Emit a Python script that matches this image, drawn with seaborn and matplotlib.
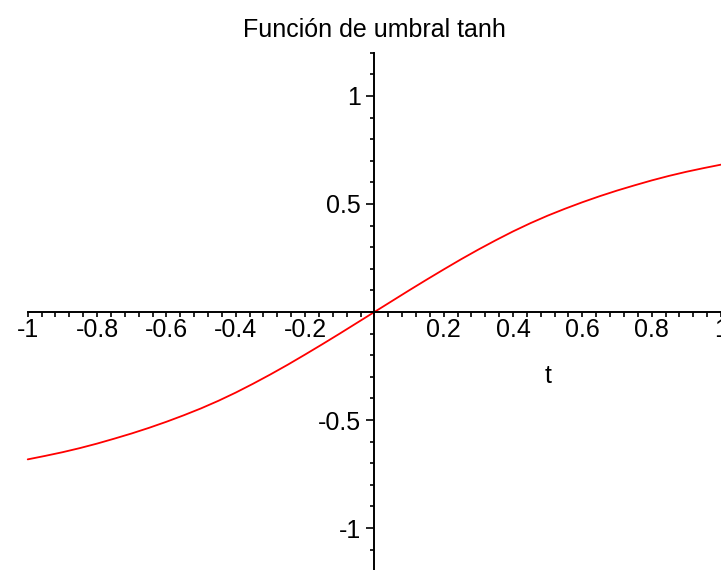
import numpy as np
import pandas as pd
import matplotlib
matplotlib.use("Agg")
import matplotlib.pyplot as plt
from matplotlib.ticker import FixedLocator
import seaborn as sns

# wartości (t co 0.05)
t_vals = [-1.0, -0.95, -0.9, -0.85, -0.8, -0.75, -0.7, -0.65, -0.6, -0.55,
          -0.5, -0.45, -0.4, -0.35, -0.3, -0.25, -0.2, -0.15, -0.1, -0.05,
          0.0, 0.05, 0.1, 0.15, 0.2, 0.25, 0.3, 0.35, 0.4, 0.45,
          0.5, 0.55, 0.6, 0.65, 0.7, 0.75, 0.8, 0.85, 0.9, 0.95, 1.0]
y_vals = [-0.682, -0.666, -0.649, -0.63, -0.609, -0.586, -0.562, -0.536, -0.508, -0.478,
          -0.446, -0.411, -0.373, -0.332, -0.289, -0.244, -0.197, -0.149, -0.1, -0.05,
          0.0, 0.05, 0.1, 0.149, 0.197, 0.244, 0.289, 0.332, 0.373, 0.411,
          0.446, 0.478, 0.508, 0.536, 0.562, 0.586, 0.609, 0.63, 0.649, 0.666, 0.682]

x_ticks = [-1, -0.8, -0.6, -0.4, -0.2, 0.2, 0.4, 0.6, 0.8, 1]
x_labels = ["-1", "-0.8", "-0.6", "-0.4", "-0.2", "0.2", "0.4", "0.6", "0.8", "1"]
y_ticks = [-1, -0.5, 0.5, 1]
y_labels = ["-1", "-0.5", "0.5", "1"]

title = "Función de umbral tanh"
x_name = "t"

df = pd.DataFrame({"t": t_vals, "y": y_vals})

sns.set_style("white")
plt.rcParams["font.family"] = ["Liberation Sans", "DejaVu Sans"]
plt.rcParams["text.color"] = "black"
plt.rcParams["xtick.color"] = "black"
plt.rcParams["ytick.color"] = "black"

fig = plt.figure(figsize=(7.21, 5.70), dpi=100)
ax = fig.add_axes([0, 0, 1, 1])

sns.lineplot(data=df, x="t", y="y", color="#ff0000", linewidth=1.3, ax=ax)

ax.set_xlim(-1.08, 1.0)
ax.set_ylim(-1.194, 1.444)

# osie przecinające się w zerze
for s in ["top", "right"]:
    ax.spines[s].set_visible(False)
ax.spines["left"].set_position(("data", 0))
ax.spines["bottom"].set_position(("data", 0))
ax.spines["left"].set_bounds(-1.194, 1.2)
ax.spines["bottom"].set_bounds(-1, 1.0)
for s in ["left", "bottom"]:
    ax.spines[s].set_linewidth(1.4)
    ax.spines[s].set_color("black")

# podziałki - tylko w zakresie osi
x_minor = np.round(np.arange(-1, 1.001, 0.04), 2)
y_minor = np.round(np.arange(-1.1, 1.201, 0.1), 2)

ax.xaxis.set_major_locator(FixedLocator(x_ticks))
ax.set_xticklabels(x_labels)
ax.xaxis.set_minor_locator(FixedLocator(x_minor))
ax.yaxis.set_major_locator(FixedLocator(y_ticks))
ax.set_yticklabels(y_labels)
ax.yaxis.set_minor_locator(FixedLocator(y_minor))

ax.tick_params(axis="x", which="major", direction="out", length=3.6, width=1.2,
               labelsize=18, pad=1, bottom=True, labelcolor="black")
ax.tick_params(axis="x", which="minor", direction="out", length=3.6, width=1.2, bottom=True)
ax.tick_params(axis="y", which="major", direction="out", length=5.8, width=1.2,
               labelsize=18, pad=4, left=True, labelcolor="black")
ax.tick_params(axis="y", which="minor", direction="out", length=2.9, width=1.2, left=True)

ax.set_xlabel("")
ax.set_ylabel("")
ax.text(0.5, -0.33, x_name, fontsize=18, ha="center", va="baseline", color="black")

fig.text(374 / 721, 1 - 37 / 570, title, fontsize=18, ha="center", va="baseline",
         color="black")

fig.savefig("out.png", dpi=100)
